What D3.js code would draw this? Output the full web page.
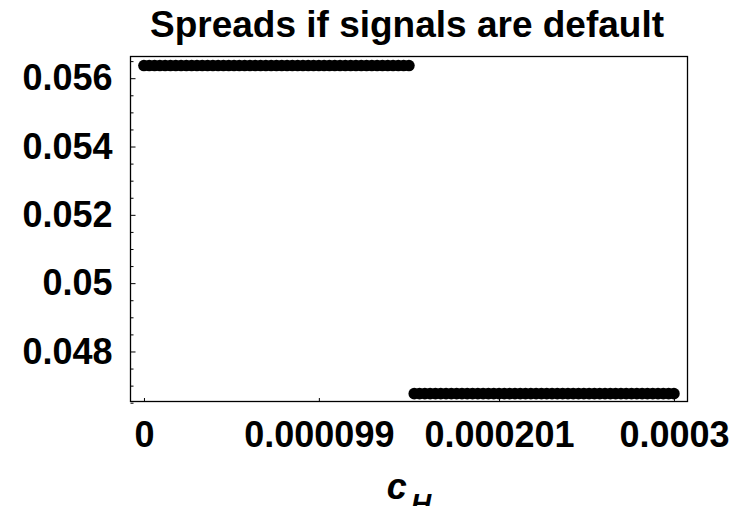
<!DOCTYPE html>
<html>
<head>
<meta charset="utf-8">
<script src="https://cdn.jsdelivr.net/npm/d3@7"></script>
<style>
  html, body { margin: 0; padding: 0; background: #fff; }
  svg { display: block; font-family: 'Liberation Sans', Arial, sans-serif; font-weight: bold; }
</style>
</head>
<body>
<div id="chart"></div>
<script>
'use strict';

// c_H values where spreads were evaluated
const highC = [
  0, 3e-6, 6e-6, 9e-6, 12e-6, 15e-6, 18e-6, 21e-6, 24e-6, 27e-6,
  30e-6, 33e-6, 36e-6, 39e-6, 42e-6, 45e-6, 48e-6, 51e-6, 54e-6, 57e-6,
  60e-6, 63e-6, 66e-6, 69e-6, 72e-6, 75e-6, 78e-6, 81e-6, 84e-6, 87e-6,
  90e-6, 93e-6, 96e-6, 99e-6, 102e-6, 105e-6, 108e-6, 111e-6, 114e-6, 117e-6,
  120e-6, 123e-6, 126e-6, 129e-6, 132e-6, 135e-6, 138e-6, 141e-6, 144e-6, 147e-6,
  150e-6,
];
const lowC = [
  153e-6, 156e-6, 159e-6, 162e-6, 165e-6, 168e-6, 171e-6, 174e-6, 177e-6, 180e-6,
  183e-6, 186e-6, 189e-6, 192e-6, 195e-6, 198e-6, 201e-6, 204e-6, 207e-6, 210e-6,
  213e-6, 216e-6, 219e-6, 222e-6, 225e-6, 228e-6, 231e-6, 234e-6, 237e-6, 240e-6,
  243e-6, 246e-6, 249e-6, 252e-6, 255e-6, 258e-6, 261e-6, 264e-6, 267e-6, 270e-6,
  273e-6, 276e-6, 279e-6, 282e-6, 285e-6, 288e-6, 291e-6, 294e-6, 297e-6, 300e-6,
];
const highSpread = 0.05637;
const lowSpread = 0.046765;

const xTicks = [0, 0.000099, 0.000201, 0.0003];
const xTickLabels = ['0', '0.000099', '0.000201', '0.0003'];
const yTicks = [0.048, 0.05, 0.052, 0.054, 0.056];
const yTickLabels = ['0.048', '0.05', '0.052', '0.054', '0.056'];
const yMinorTicks = [
  0.0465, 0.047, 0.0475, 0.0485, 0.049, 0.0495, 0.0505, 0.051, 0.0515,
  0.0525, 0.053, 0.0535, 0.0545, 0.055, 0.0555, 0.0565,
];

const W = 740;
const H = 506;
const plotLeft = 130, plotRight = 687, plotTop = 56, plotBottom = 401;

const svg = d3
  .select('#chart')
  .append('svg')
  .attr('width', W)
  .attr('height', H);

const xScale = d3
  .scaleLinear()
  .domain([-0.0000079, 0.0003074])
  .range([plotLeft, plotRight]);

const yScale = d3
  .scaleLinear()
  .domain([0.04655, 0.05665])
  .range([plotBottom, plotTop]);

const points = highC.map((c) => ({ c: c, s: highSpread }))
  .concat(lowC.map((c) => ({ c: c, s: lowSpread })));

// frame
svg
  .append('rect')
  .attr('x', plotLeft + 0.5)
  .attr('y', plotTop + 0.5)
  .attr('width', plotRight - plotLeft)
  .attr('height', plotBottom - plotTop)
  .attr('fill', 'none')
  .attr('stroke', '#000')
  .attr('stroke-width', 1.3);

// y axis, ticks pointing inward
svg
  .append('g')
  .attr('transform', `translate(${plotLeft + 0.5}, 0)`)
  .call(d3.axisLeft(yScale)
    .tickValues(yTicks)
    .tickSize(-5)
    .tickPadding(18)
    .tickFormat((d, i) => yTickLabels[i]));

svg
  .append('g')
  .attr('transform', `translate(${plotLeft + 0.5}, 0)`)
  .call(d3.axisLeft(yScale)
    .tickValues(yMinorTicks)
    .tickSize(-3)
    .tickFormat(''));

// x axis
svg
  .append('g')
  .attr('transform', `translate(0, ${plotBottom + 0.5})`)
  .call(d3.axisBottom(xScale)
    .tickValues(xTicks)
    .tickSize(-3.5)
    .tickPadding(20)
    .tickFormat((d, i) => xTickLabels[i]));

svg.selectAll('.domain').remove();
svg.selectAll('.tick line').attr('stroke', '#000');
svg.selectAll('.tick text')
  .attr('fill', '#000')
  .style('font-size', '36px')
  .style('font-family', "'Liberation Sans', Arial, sans-serif")
  .style('font-weight', 'bold');

// points
svg
  .append('g')
  .selectAll('circle')
  .data(points)
  .enter()
  .append('circle')
  .attr('cx', d => xScale(d.c))
  .attr('cy', d => yScale(d.s))
  .attr('r', 5.8)
  .attr('fill', '#000');

// title
svg
  .append('text')
  .attr('x', 407)
  .attr('y', 37)
  .attr('text-anchor', 'middle')
  .style('font-size', '37px')
  .text('Spreads if signals are default');

// x label
const xLabel = svg
  .append('text')
  .attr('x', 409)
  .attr('y', 499)
  .attr('text-anchor', 'middle')
  .style('font-style', 'italic');

xLabel.append('tspan')
  .style('font-size', '36px')
  .text('c');

xLabel.append('tspan')
  .attr('dx', 4)
  .attr('dy', 14)
  .style('font-size', '28px')
  .text('H');
</script>
</body>
</html>
